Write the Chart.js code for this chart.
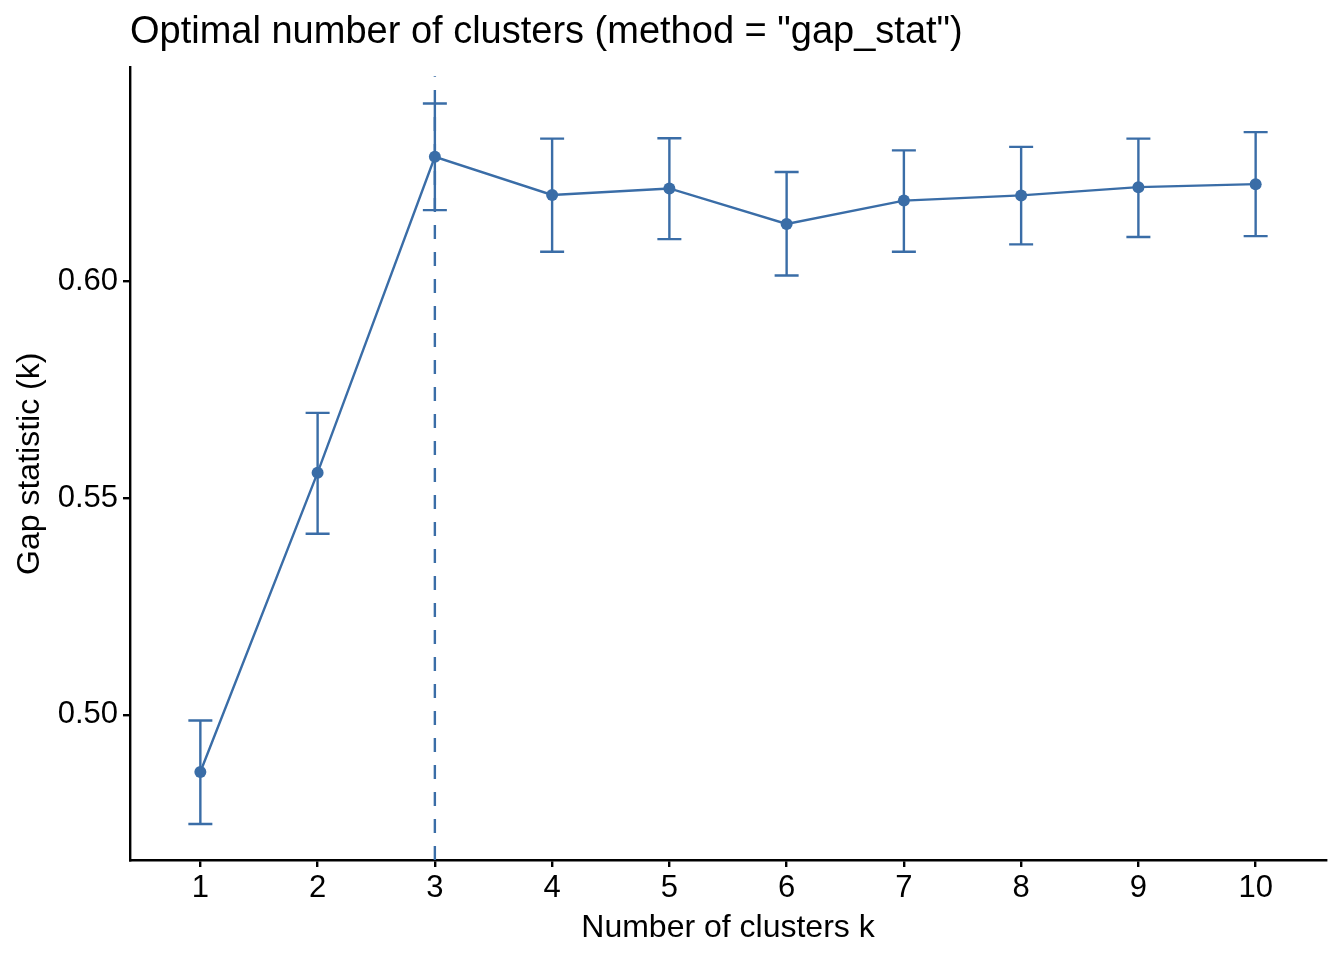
<!DOCTYPE html>
<html>
<head>
<meta charset="utf-8">
<style>
  html, body { margin: 0; padding: 0; background: #fff; }
  #wrap { width: 1344px; height: 960px; }
</style>
<script src="https://cdn.jsdelivr.net/npm/chart.js@4/dist/chart.umd.min.js"></script>
</head>
<body>
<div id="wrap"><canvas id="gapChart" width="1344" height="960"></canvas></div>
<script>
// Data
const clusters = [1, 2, 3, 4, 5, 6, 7, 8, 9, 10];
const gapValues = [0.4868, 0.5559, 0.6288, 0.6200, 0.6215, 0.6133, 0.6187, 0.6199, 0.6218, 0.6225];
const gapUpper  = [0.4987, 0.5697, 0.6411, 0.6330, 0.6331, 0.6253, 0.6303, 0.6311, 0.6330, 0.6345];
const gapLower  = [0.4748, 0.5418, 0.6165, 0.6069, 0.6098, 0.6014, 0.6069, 0.6086, 0.6103, 0.6105];
const yTicks = [0.50, 0.55, 0.60];
const xTicks = clusters;
const optimalK = 3;
const yRange = [0.4665, 0.6494];
const xRange = [0.4, 10.6];

const BLUE = '#3A6DA7';
const FONT = "'Liberation Sans', Arial, sans-serif";

// Error bars with caps, drawn through the chart scales
const errorBars = {
    id: 'errorBars',
    afterDatasetsDraw(chart) {
        const { ctx, scales: { x, y } } = chart;
        ctx.save();
        ctx.strokeStyle = BLUE;
        ctx.lineWidth = 2.4;
        clusters.forEach((k, i) => {
            const px = x.getPixelForValue(k);
            const top = y.getPixelForValue(gapUpper[i]);
            const bot = y.getPixelForValue(gapLower[i]);
            const half = 12;
            ctx.beginPath();
            ctx.moveTo(px, top); ctx.lineTo(px, bot);
            ctx.moveTo(px - half, top); ctx.lineTo(px + half, top);
            ctx.moveTo(px - half, bot); ctx.lineTo(px + half, bot);
            ctx.stroke();
        });
        ctx.restore();
    }
};

const ctx = document.getElementById('gapChart').getContext('2d');
new Chart(ctx, {
    type: 'line',
    data: {
        datasets: [
            {
                label: 'optimal',
                data: [{ x: optimalK, y: yRange[0] }, { x: optimalK, y: 0.6474 }],
                borderColor: BLUE,
                borderWidth: 2.4,
                borderDash: [14, 13],
                pointRadius: 0,
                order: 2
            },
            {
                label: 'gap',
                data: clusters.map((k, i) => ({ x: k, y: gapValues[i] })),
                borderColor: BLUE,
                backgroundColor: BLUE,
                borderWidth: 2.4,
                pointRadius: 6,
                pointBackgroundColor: BLUE,
                pointBorderWidth: 0,
                tension: 0,
                order: 1
            }
        ]
    },
    options: {
        responsive: false,
        animation: false,
        layout: { padding: { top: 0, right: 18, bottom: 0, left: 0 } },
        plugins: {
            legend: { display: false },
            tooltip: { enabled: false },
            title: {
                display: true,
                text: 'Optimal number of clusters (method = "gap_stat")',
                align: 'start',
                fullSize: false,
                color: '#000',
                font: { family: FONT, size: 38, weight: 'normal' },
                padding: { top: 10, bottom: 12 }
            }
        },
        scales: {
            x: {
                type: 'linear',
                min: xRange[0],
                max: xRange[1],
                afterBuildTicks: s => { s.ticks = xTicks.map(v => ({ value: v })); },
                afterFit: s => { s.height = 100; },
                grid: { drawOnChartArea: false, drawTicks: true, tickLength: 7, color: '#000', lineWidth: 2.4 },
                border: { display: true, color: '#000', width: 2.4 },
                ticks: {
                    color: '#000',
                    font: { family: FONT, size: 31 },
                    padding: 3,
                    maxRotation: 0,
                    callback: v => String(v)
                },
                title: {
                    display: true,
                    text: 'Number of clusters k',
                    color: '#000',
                    font: { family: FONT, size: 32 },
                    padding: { top: 2, bottom: 13 }
                }
            },
            y: {
                type: 'linear',
                min: yRange[0],
                max: yRange[1],
                afterBuildTicks: s => { s.ticks = yTicks.map(v => ({ value: v })); },
                afterFit: s => { s.width = 130; },
                grid: { drawOnChartArea: false, drawTicks: true, tickLength: 7, color: '#000', lineWidth: 2.4 },
                border: { display: true, color: '#000', width: 2.4 },
                ticks: {
                    color: '#000',
                    font: { family: FONT, size: 31 },
                    padding: 5,
                    callback: v => v.toFixed(2)
                },
                title: {
                    display: true,
                    text: 'Gap statistic (k)',
                    color: '#000',
                    font: { family: FONT, size: 32 },
                    padding: { top: 11, bottom: 4 }
                }
            }
        }
    },
    plugins: [errorBars]
});
</script>
</body>
</html>
